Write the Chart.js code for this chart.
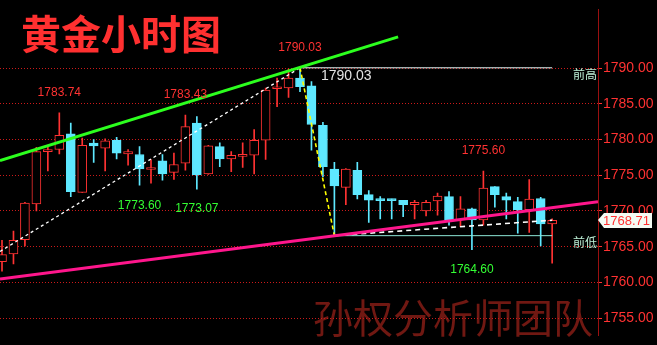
<!DOCTYPE html>
<html><head><meta charset="utf-8">
<script src="https://cdn.jsdelivr.net/npm/chart.js@4/dist/chart.umd.min.js"></script>
<style>html,body{margin:0;padding:0;background:#000;overflow:hidden}canvas{display:block}</style>
</head><body>
<canvas id="c" width="657" height="345"></canvas>
<script>
const opens  = [1762.9,1764.0,1766.0,1771.0,1778.3,1778.6,1780.8,1772.6,1779.5,1778.8,1779.9,1778.0,1777.9,1775.8,1777.0,1775.4,1776.7,1782.3,1775.2,1779.0,1777.3,1777.65,1777.8,1779.9,1787.1,1787.2,1788.6,1787.5,1782.0,1775.85,1773.3,1775.7,1772.3,1771.55,1771.55,1771.5,1770.9,1770.0,1771.4,1772.0,1768.75,1770.3,1768.75,1773.4,1772.0,1771.3,1770.2,1771.75,1768.2];
const highs  = [1765.9,1767.2,1771.2,1778.9,1779.2,1783.74,1782.3,1780.2,1780.0,1780.1,1780.3,1778.6,1779.0,1777.2,1777.9,1778.1,1783.43,1783.2,1779.2,1779.55,1778.3,1779.55,1781.4,1787.2,1788.6,1789.85,1790.03,1788.1,1782.4,1776.8,1775.95,1776.8,1772.85,1772.0,1771.65,1771.5,1771.5,1771.5,1772.5,1772.7,1772.0,1770.4,1775.6,1773.4,1772.5,1771.9,1774.4,1771.9,1768.9];
const lows   = [1761.6,1762.6,1765.1,1770.0,1775.6,1778.0,1772.0,1772.6,1776.8,1775.6,1777.3,1776.4,1773.6,1773.9,1774.3,1774.4,1775.7,1773.07,1775.1,1776.2,1775.5,1776.1,1775.2,1777.2,1784.6,1785.9,1786.7,1778.5,1774.8,1766.55,1770.9,1771.7,1768.4,1768.9,1768.9,1769.2,1768.9,1769.3,1769.4,1768.0,1767.8,1764.6,1768.0,1770.55,1768.9,1766.9,1767.0,1765.1,1762.7];
const closes = [1763.9,1765.9,1771.1,1778.3,1778.6,1780.6,1772.7,1779.2,1779.1,1779.8,1778.1,1778.3,1775.9,1775.9,1775.2,1776.5,1781.8,1775.05,1779.1,1777.3,1777.8,1777.75,1779.9,1786.9,1787.3,1788.6,1787.4,1782.1,1776.2,1773.5,1775.85,1772.3,1771.5,1771.45,1771.45,1770.9,1771.2,1771.2,1772.1,1768.7,1770.3,1768.75,1773.2,1772.3,1771.5,1770.2,1771.65,1768.2,1768.71];
const yTicks = [1755,1760,1765,1770,1775,1780,1785,1790];
const highLabels = [[5,1783.74],[16,1783.43],[26,1790.03],[42,1775.60]];
const lowLabels  = [[12,1773.60],[17,1773.07],[41,1764.60]];
const greenTrend = [[-0.175,1777.04],[34.56,1794.36]];
const pinkTrend  = [[-0.175,1760.5],[52.0,1771.28]];
const wave1 = [[-0.175,1764.34],[26,1790.03]];
const wave2 = [[26,1790.03],[29,1766.55]];
const wave3 = [[29,1766.55],[48,1768.71]];
const prevHigh = [[26,1790.03],[48,1790.03]];
const prevLow  = [[29,1766.55],[48,1766.55]];
const xRange = [-0.175, 52.0];
const yRange = [1752.57, 1798.2];

const RED = '#ff3232', CYAN = '#5ee8ff';
const idx = opens.map((_, i) => i);
const up = idx.map(i => closes[i] >= opens[i]);
const pts = a => a.map(p => ({x: p[0], y: p[1]}));
const lineDs = (a, color, w, dash) => ({type:'line', data: pts(a), borderColor: color, borderWidth: w, borderDash: dash || [], pointRadius: 0, fill: false, tension: 0, order: 0});

const overlay = {
  id: 'overlay',
  beforeDraw(chart) {
    const c = chart.ctx; c.save();
    c.fillStyle = '#000'; c.fillRect(0, 0, chart.width, chart.height);
    c.font = '40px "Noto Sans CJK SC"'; c.fillStyle = '#701812'; c.textAlign = 'left'; c.textBaseline = 'alphabetic';
    c.fillText('孙权分析师团队', 313, 333);
    c.restore();
  },
  afterDatasetsDraw(chart) {
    const c = chart.ctx, xs = chart.scales.x, ys = chart.scales.y;
    c.save();
    c.font = '12px "Liberation Sans"'; c.textAlign = 'center'; c.textBaseline = 'alphabetic';
    c.fillStyle = RED;
    highLabels.forEach(([i, v]) => c.fillText(v.toFixed(2), xs.getPixelForValue(i), ys.getPixelForValue(v) - 21 + 4.3));
    c.fillStyle = '#33ff33';
    lowLabels.forEach(([i, v]) => c.fillText(v.toFixed(2), xs.getPixelForValue(i), ys.getPixelForValue(v) + 19 + 4.3));
    c.font = '14px "Liberation Sans"'; c.textAlign = 'left'; c.fillStyle = '#e4e4e4';
    c.fillText(prevHigh[0][1].toFixed(2), xs.getPixelForValue(prevHigh[0][0]) + 21, ys.getPixelForValue(prevHigh[0][1]) + 12);
    c.restore();
  },
  afterDraw(chart) {
    const c = chart.ctx, ys = chart.scales.y, ax = chart.chartArea.right;
    c.save();
    c.font = 'bold 40px "Noto Sans CJK SC"'; c.fillStyle = '#ff3030'; c.textAlign = 'left'; c.textBaseline = 'alphabetic';
    c.fillText('黄金小时图', 21, 49);
    c.font = '12px "Noto Sans CJK SC"'; c.fillStyle = '#bff2d8'; c.textAlign = 'right';
    c.fillText('前高', ax - 1, ys.getPixelForValue(prevHigh[0][1]) + 11);
    c.fillText('前低', ax - 1, ys.getPixelForValue(prevLow[0][1]) + 11);
    const last = closes[closes.length - 1], y = Math.round(ys.getPixelForValue(last));
    c.beginPath();
    c.moveTo(ax, y); c.lineTo(ax + 6, y - 7); c.lineTo(652, y - 7); c.lineTo(652, y + 8); c.lineTo(ax + 6, y + 8); c.closePath();
    c.fillStyle = '#f4fbf4'; c.fill();
    c.font = '13px "Liberation Sans"'; c.fillStyle = RED; c.textAlign = 'left'; c.textBaseline = 'middle';
    c.fillText(last.toFixed(2), ax + 5, y + 1);
    c.restore();
  }
};

new Chart(document.getElementById('c'), {
  type: 'bar',
  data: {
    datasets: [
      lineDs(greenTrend, '#2cff1e', 3),
      lineDs(pinkTrend, '#ff168c', 3),
      lineDs(wave1, '#ffffff', 1.3, [3, 3]),
      lineDs(wave2, '#ffff00', 1.6, [4, 3]),
      lineDs(wave3, '#ffffff', 1.6, [5, 4]),
      lineDs(prevHigh, '#e8fafa', 1),
      lineDs(prevLow, '#8ee8d8', 1),
      {type: 'bar', data: idx.map(i => ({x: i, y: [opens[i], closes[i]]})), barThickness: 9, grouped: false, borderSkipped: false, minBarLength: 2,
       backgroundColor: idx.map(i => up[i] ? '#000' : CYAN), borderColor: idx.map(i => up[i] ? RED : CYAN), borderWidth: 1, order: 1},
      {type: 'bar', data: idx.map(i => ({x: i, y: [lows[i], highs[i]]})), barThickness: 1, grouped: false, borderWidth: 0,
       backgroundColor: idx.map(i => up[i] ? RED : CYAN), order: 2}
    ]
  },
  options: {
    responsive: false, animation: false, events: [],
    layout: {padding: 0},
    plugins: {legend: {display: false}, tooltip: {enabled: false}},
    scales: {
      x: {type: 'linear', min: xRange[0], max: xRange[1], display: false, offset: false},
      y: {position: 'right', min: yRange[0], max: yRange[1], beginAtZero: false,
          afterBuildTicks: s => { s.ticks = yTicks.map(v => ({value: v})); },
          afterFit: s => { s.width = 59; },
          grid: {color: '#cc1a1a', lineWidth: 1, drawTicks: true, tickLength: 4, tickColor: RED, tickBorderDash: []},
          border: {color: '#9a1010', width: 1, dash: [1, 2]},
          ticks: {color: RED, font: {family: 'Liberation Sans', size: 14}, padding: 1, callback: v => Number(v).toFixed(2)}}
    }
  },
  plugins: [overlay]
});
</script>
</body></html>
